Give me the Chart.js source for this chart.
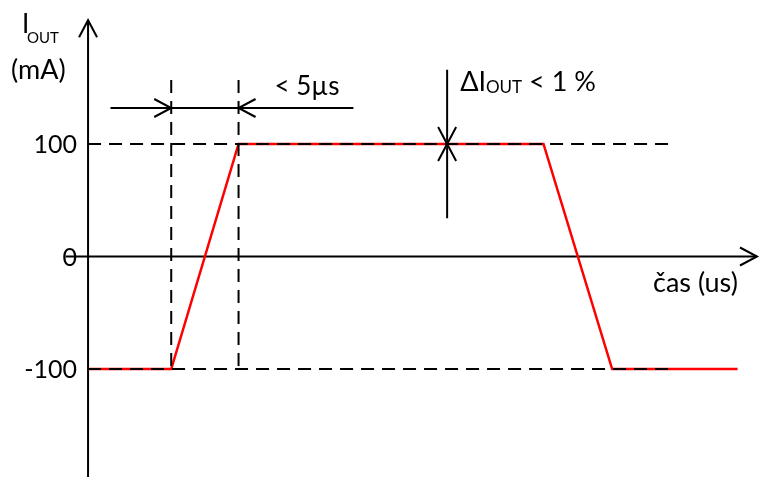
<!DOCTYPE html>
<html>
<head>
<meta charset="utf-8">
<script src="https://cdn.jsdelivr.net/npm/chart.js@4"></script>
<style>
    body { margin: 0; background: #fff; }
    #wrap { width: 760px; height: 477px; }
</style>
</head>
<body>
<div id="wrap"><canvas id="myChart" width="760" height="477"></canvas></div>
<script>
// Red trace (time in us, current in mA)
const traceTime = [0, 6.3, 11.4, 34.5, 39.7, 49.2];
const traceCurrent = [-100, -100, 100, 100, -100, -100];

// dashed guide lines
const levelValues = [100, -100];
const levelEnd = 44.5;
const edgeTimes = [6.3, 11.4];
const edgeTop = 157;

// tick labels on the y axis
const tickValues = [100, 0, -100];
const tickLabels = ['100', '0', '-100'];

// axis extents
const xAxisStart = -1.7;
const yAxisTop = 210;

// dimension arrows
const riseArrowLevel = 132;
const riseArrowFrom = 1.7;
const riseArrowTo = 20.1;
const deltaArrowTime = 27.2;
const deltaArrowTop = 166;
const deltaArrowBottom = 34;

const FONT = 'Lato, "Open Sans", sans-serif';

function arrowHead(ctx, tipX, tipY, dirX, dirY) {
    // open V head, dir points where the tip points
    const len = 17, half = 9;
    const bx = tipX - dirX * len, by = tipY - dirY * len;
    ctx.beginPath();
    ctx.moveTo(bx - dirY * half, by + dirX * half);
    ctx.lineTo(tipX, tipY);
    ctx.lineTo(bx + dirY * half, by - dirX * half);
    ctx.stroke();
}

const diagramPlugin = {
    id: 'diagram',
    beforeDatasetsDraw(chart) {
        const ctx = chart.ctx;
        const xs = chart.scales.x, ys = chart.scales.y;
        const x0 = xs.getPixelForValue(0);
        const y0 = ys.getPixelForValue(0);
        ctx.save();
        ctx.strokeStyle = '#000';
        ctx.lineWidth = 2;
        ctx.setLineDash([]);
        // y axis
        ctx.beginPath();
        ctx.moveTo(x0, chart.height);
        ctx.lineTo(x0, ys.getPixelForValue(yAxisTop));
        ctx.stroke();
        arrowHead(ctx, x0, ys.getPixelForValue(yAxisTop), 0, -1);
        // x axis
        ctx.beginPath();
        ctx.moveTo(xs.getPixelForValue(xAxisStart), y0);
        ctx.lineTo(chart.width - 3, y0);
        ctx.stroke();
        arrowHead(ctx, chart.width - 3, y0, 1, 0);
        ctx.restore();
    },
    afterDatasetsDraw(chart) {
        const ctx = chart.ctx;
        const xs = chart.scales.x, ys = chart.scales.y;
        const x0 = xs.getPixelForValue(0);
        ctx.save();
        ctx.strokeStyle = '#000';
        ctx.fillStyle = '#000';
        ctx.lineWidth = 2;

        // rise time dimension
        const ry = ys.getPixelForValue(riseArrowLevel);
        ctx.beginPath();
        ctx.moveTo(xs.getPixelForValue(riseArrowFrom), ry);
        ctx.lineTo(xs.getPixelForValue(riseArrowTo), ry);
        ctx.stroke();
        arrowHead(ctx, xs.getPixelForValue(edgeTimes[0]), ry, 1, 0);
        arrowHead(ctx, xs.getPixelForValue(edgeTimes[1]), ry, -1, 0);

        // delta I dimension
        const dx = xs.getPixelForValue(deltaArrowTime);
        const dTip = ys.getPixelForValue(levelValues[0]);
        ctx.beginPath();
        ctx.moveTo(dx, ys.getPixelForValue(deltaArrowTop));
        ctx.lineTo(dx, ys.getPixelForValue(deltaArrowBottom));
        ctx.stroke();
        arrowHead(ctx, dx, dTip, 0, 1);
        arrowHead(ctx, dx, dTip, 0, -1);

        // tick labels
        ctx.font = '25px ' + FONT;
        ctx.textAlign = 'right';
        ctx.textBaseline = 'middle';
        tickValues.forEach((v, i) => {
            ctx.fillText(tickLabels[i], x0 - 11, ys.getPixelForValue(v) + 1);
        });

        // y axis title
        ctx.textAlign = 'left';
        ctx.textBaseline = 'alphabetic';
        ctx.font = '26px ' + FONT;
        ctx.fillText('I', x0 - 66, 33);
        ctx.font = '15px ' + FONT;
        ctx.fillText('OUT', x0 - 61, 43);
        ctx.font = '27px ' + FONT;
        ctx.fillText('(mA)', x0 - 77, 79);

        // annotations
        ctx.font = '26px ' + FONT;
        ctx.fillText('< 5µs', xs.getPixelForValue(edgeTimes[1]) + 36, 95);
        let tx = dx + 13;
        ctx.font = '27px ' + FONT;
        ctx.fillText('ΔI', tx, 91);
        tx += ctx.measureText('ΔI').width;
        ctx.font = '17px ' + FONT;
        ctx.fillText('OUT', tx, 93);
        tx += ctx.measureText('OUT').width;
        ctx.font = '27px ' + FONT;
        ctx.fillText(' < 1 %', tx, 91);

        // x axis title
        ctx.font = '27px ' + FONT;
        ctx.fillText('čas (us)', 653, 292);
        ctx.restore();
    }
};

// datasets: dashed guides first so they sit on top of the red trace
const datasets = [];
levelValues.forEach(v => {
    datasets.push({
        data: [{ x: 0, y: v }, { x: levelEnd, y: v }],
        borderColor: '#000', borderWidth: 2, borderDash: [13, 8]
    });
});
edgeTimes.forEach(t => {
    datasets.push({
        data: [{ x: t, y: edgeTop }, { x: t, y: levelValues[1] }],
        borderColor: '#000', borderWidth: 2, borderDash: [13, 8]
    });
});
datasets.push({
    data: traceTime.map((t, i) => ({ x: t, y: traceCurrent[i] })),
    borderColor: '#ff0000', borderWidth: 2.5
});

new Chart(document.getElementById('myChart'), {
    type: 'scatter',
    data: { datasets: datasets.map(d => Object.assign({ showLine: true, pointRadius: 0, fill: false, tension: 0 }, d)) },
    options: {
        responsive: false,
        animation: false,
        layout: { padding: 0 },
        plugins: { legend: { display: false }, tooltip: { enabled: false } },
        scales: {
            x: { type: 'linear', display: false, min: -6.67, max: 50.9 },
            y: { type: 'linear', display: false, min: -196, max: 228 }
        }
    },
    plugins: [diagramPlugin]
});
</script>
</body>
</html>
